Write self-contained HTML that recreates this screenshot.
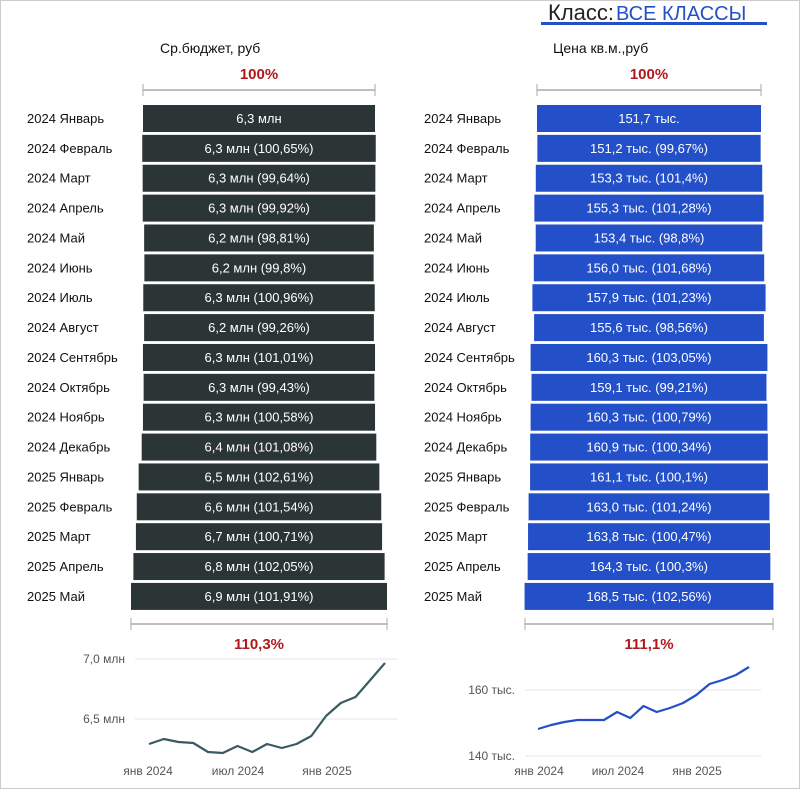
<!DOCTYPE html>
<html><head><meta charset="utf-8"><style>
html,body{margin:0;padding:0;background:#fff}
svg{display:block;font-family:"Liberation Sans",sans-serif}
</style></head><body>
<svg id="s" width="800" height="789" viewBox="0 0 800 789" xmlns="http://www.w3.org/2000/svg"></svg>
<script>
const L=[["2024 Январь","6,3 млн"],["2024 Февраль","6,3 млн (100,65%)"],["2024 Март","6,3 млн (99,64%)"],["2024 Апрель","6,3 млн (99,92%)"],["2024 Май","6,2 млн (98,81%)"],["2024 Июнь","6,2 млн (99,8%)"],["2024 Июль","6,3 млн (100,96%)"],["2024 Август","6,2 млн (99,26%)"],["2024 Сентябрь","6,3 млн (101,01%)"],["2024 Октябрь","6,3 млн (99,43%)"],["2024 Ноябрь","6,3 млн (100,58%)"],["2024 Декабрь","6,4 млн (101,08%)"],["2025 Январь","6,5 млн (102,61%)"],["2025 Февраль","6,6 млн (101,54%)"],["2025 Март","6,7 млн (100,71%)"],["2025 Апрель","6,8 млн (102,05%)"],["2025 Май","6,9 млн (101,91%)"]];
const R=["151,7 тыс.","151,2 тыс. (99,67%)","153,3 тыс. (101,4%)","155,3 тыс. (101,28%)","153,4 тыс. (98,8%)","156,0 тыс. (101,68%)","157,9 тыс. (101,23%)","155,6 тыс. (98,56%)","160,3 тыс. (103,05%)","159,1 тыс. (99,21%)","160,3 тыс. (100,79%)","160,9 тыс. (100,34%)","161,1 тыс. (100,1%)","163,0 тыс. (101,24%)","163,8 тыс. (100,47%)","164,3 тыс. (100,3%)","168,5 тыс. (102,56%)"];
const rl=[1,1.0065,1.0029,1.0021,.9902,.9882,.9977,.9903,1.0003,.9946,1.0004,1.0112,1.0376,1.0536,1.0611,1.0828,1.1035];
const rr=[1,.9967,1.0107,1.0236,1.0114,1.0284,1.0410,1.0260,1.0573,1.0489,1.0572,1.0608,1.0619,1.0751,1.0801,1.0834,1.1111];
let h='<rect x="0.5" y="0.5" width="799" height="788" fill="#fff" stroke="#ccc"/>';
h+='<text x="548" y="20" font-size="22" fill="#222">Класс:</text><text x="616" y="20" font-size="20" fill="#2350c8">ВСЕ КЛАССЫ</text><rect x="541" y="22" width="226" height="3" fill="#2350c8"/>';
h+='<text x="160" y="53" font-size="14" fill="#111">Ср.бюджет, руб</text><text x="553" y="53" font-size="14" fill="#111">Цена кв.м.,руб</text>';
function br(x1,x2,y){return `<line x1="${x1}" y1="${y}" x2="${x2}" y2="${y}" stroke="#aaa" stroke-width="1.5"/><line x1="${x1}" y1="${y-6}" x2="${x1}" y2="${y+6}" stroke="#aaa"/><line x1="${x2}" y1="${y-6}" x2="${x2}" y2="${y+6}" stroke="#aaa"/>`}
h+='<g font-weight="bold" fill="#b0181c" font-size="15" text-anchor="middle"><text x="259" y="79">100%</text><text x="649" y="79">100%</text><text x="259" y="649">110,3%</text><text x="649" y="649">111,1%</text></g>';
h+=br(143,375,90)+br(537,761,90)+br(131,387,624)+br(525,773,624);
for(let i=0;i<17;i++){const y=105+29.87*i;const wl=232*rl[i],wr=224*rr[i];
h+=`<text x="27" y="${y+18}" font-size="13" fill="#111">${L[i][0]}</text><text x="424" y="${y+18}" font-size="13" fill="#111">${L[i][0]}</text>`;
h+=`<rect x="${259-wl/2}" y="${y}" width="${wl}" height="27" fill="#2b3535"/><text x="259" y="${y+18}" font-size="13" fill="#fff" text-anchor="middle">${L[i][1]}</text>`;
h+=`<rect x="${649-wr/2}" y="${y}" width="${wr}" height="27" fill="#2350c8"/><text x="649" y="${y+18}" font-size="13" fill="#fff" text-anchor="middle">${R[i]}</text>`;}
h+='<line x1="135" y1="659" x2="397" y2="659" stroke="#e6e6e6"/><line x1="135" y1="719" x2="397" y2="719" stroke="#e6e6e6"/>';
h+='<g font-size="12" fill="#555"><text x="125" y="663" text-anchor="end">7,0 млн</text><text x="125" y="723" text-anchor="end">6,5 млн</text><text x="148" y="775" text-anchor="middle">янв 2024</text><text x="238" y="775" text-anchor="middle">июл 2024</text><text x="327" y="775" text-anchor="middle">янв 2025</text></g>';
const yl=[744,739,742,743,752,753,746,752,744,748,744,736,716,703,697,680,663];
let p=yl.map((y,i)=>`${(149+14.75*i).toFixed(1)},${y}`).join(' ');
h+=`<polyline points="${p}" fill="none" stroke="#3a5a64" stroke-width="2.2" stroke-linejoin="round"/>`;
h+='<line x1="525" y1="690" x2="761" y2="690" stroke="#e6e6e6"/><line x1="525" y1="756" x2="761" y2="756" stroke="#e6e6e6"/>';
h+='<g font-size="12" fill="#555"><text x="515" y="694" text-anchor="end">160 тыс.</text><text x="515" y="760" text-anchor="end">140 тыс.</text><text x="539" y="775" text-anchor="middle">янв 2024</text><text x="618" y="775" text-anchor="middle">июл 2024</text><text x="697" y="775" text-anchor="middle">янв 2025</text></g>';
const yr=[729,725,722,720,720,720,712,718,706,712,708,703,695,684,680,675,667];
p=yr.map((y,i)=>`${(538+13.19*i).toFixed(1)},${y}`).join(' ');
h+=`<polyline points="${p}" fill="none" stroke="#2350c8" stroke-width="2.2" stroke-linejoin="round"/>`;
document.getElementById('s').innerHTML=h;
</script>
</body></html>
